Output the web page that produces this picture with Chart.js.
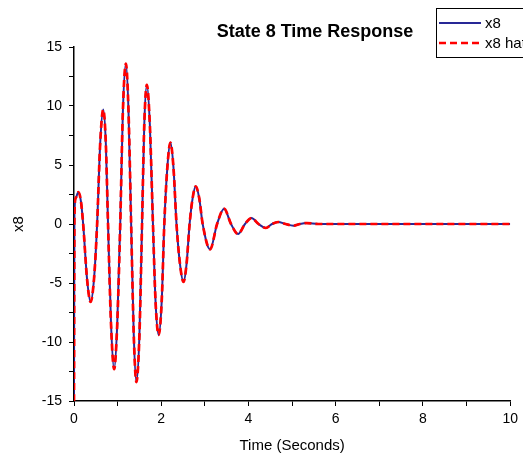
<!DOCTYPE html>
<html>
<head>
<meta charset="utf-8">
<script src="https://cdn.jsdelivr.net/npm/chart.js@4/dist/chart.umd.min.js"></script>
<style>
  body { margin: 0; background: #fff; }
  canvas { display: block; }
</style>
</head>
<body>
<canvas id="stateChart" width="523" height="456"></canvas>
<script>
// time samples (seconds)
var timeSec = [0, 0.01, 0.04, 0.1, 0.16, 0.21, 0.3, 0.38, 0.46, 0.53,
    0.6, 0.67, 0.73, 0.78, 0.85, 0.92, 0.99, 1.06, 1.12, 1.19,
    1.25, 1.31, 1.37, 1.43, 1.5, 1.56, 1.61, 1.67, 1.74, 1.81,
    1.87, 1.94, 2.01, 2.07, 2.14, 2.21, 2.28, 2.35, 2.43, 2.51,
    2.58, 2.65, 2.72, 2.79, 2.87, 2.95, 3.12, 3.28, 3.44, 3.6,
    3.76, 3.92, 4.07, 4.23, 4.4, 4.54, 4.68, 4.85, 5.03, 5.18,
    5.34, 5.6, 6, 7, 8, 9, 10];

var x8 = [-15, 0.8, 2.2, 2.7, 1.9, 0, -4.7, -6.6, -4.6, 0,
    6.8, 9.7, 6.8, 0, -8.6, -12.3, -8.6, 0, 9.5, 13.6,
    9.5, 0, -9.4, -13.4, -9.4, 0, 8.3, 11.8, 8.3, 0,
    -6.6, -9.4, -6.6, 0, 4.8, 6.9, 4.8, 0, -3.4, -4.9,
    -3.4, 0, 2.2, 3.2, 2.2, 0, -2.15, 0, 1.3, 0,
    -0.85, 0, 0.5, 0, -0.34, 0, 0.17, 0, -0.15, 0,
    0.08, 0, 0, 0, 0, 0, 0];

var x8hat = [-15, 0.8, 2.2, 2.7, 1.9, 0, -4.7, -6.6, -4.6, 0,
    6.8, 9.7, 6.8, 0, -8.6, -12.3, -8.6, 0, 9.5, 13.6,
    9.5, 0, -9.4, -13.4, -9.4, 0, 8.3, 11.8, 8.3, 0,
    -6.6, -9.4, -6.6, 0, 4.8, 6.9, 4.8, 0, -3.4, -4.9,
    -3.4, 0, 2.2, 3.2, 2.2, 0, -2.15, 0, 1.3, 0,
    -0.85, 0, 0.5, 0, -0.34, 0, 0.17, 0, -0.15, 0,
    0.08, 0, 0, 0, 0, 0, 0];

var xMajor = [0, 2, 4, 6, 8, 10];
var yMajor = [-15, -10, -5, 0, 5, 10, 15];

var FONT = "'Liberation Sans', Arial, sans-serif";

function toPoints(xs, ys) {
    return xs.map(function (t, i) { return { x: t, y: ys[i] }; });
}

// title + boxed legend, drawn like the original (legend clipped at the right edge)
var extras = {
    id: 'extras',
    afterDraw: function (chart) {
        var ctx = chart.ctx;
        ctx.save();
        ctx.fillStyle = '#000';
        ctx.font = 'bold 18px ' + FONT;
        ctx.textAlign = 'center';
        ctx.textBaseline = 'middle';
        ctx.fillText('State 8 Time Response', 315, 32);

        ctx.fillStyle = '#fff';
        ctx.fillRect(436, 8, 100, 49);
        ctx.strokeStyle = '#000';
        ctx.lineWidth = 1;
        ctx.strokeRect(436.5, 8.5, 100, 49);

        var sets = chart.data.datasets;
        var rows = [23, 43];
        sets.forEach(function (ds, i) {
            ctx.beginPath();
            ctx.strokeStyle = ds.borderColor;
            ctx.lineWidth = ds.borderWidth;
            ctx.setLineDash(ds.borderDash || []);
            ctx.moveTo(439, rows[i]);
            ctx.lineTo(481, rows[i]);
            ctx.stroke();
            ctx.setLineDash([]);
            ctx.fillStyle = '#000';
            ctx.font = '15px ' + FONT;
            ctx.textAlign = 'left';
            ctx.fillText(ds.label, 485, rows[i] + 1);
        });
        ctx.restore();
    }
};

var ctx = document.getElementById('stateChart').getContext('2d');
var chart = new Chart(ctx, {
    type: 'line',
    data: {
        datasets: [{
            label: 'x8',
            data: toPoints(timeSec, x8),
            borderColor: 'rgb(40, 40, 150)',
            borderWidth: 2,
            pointRadius: 0,
            cubicInterpolationMode: 'monotone',
            fill: false,
            order: 2
        }, {
            label: 'x8 hat',
            data: toPoints(timeSec, x8hat),
            borderColor: 'rgb(255, 0, 0)',
            borderWidth: 2.7,
            borderDash: [7, 4],
            pointRadius: 0,
            cubicInterpolationMode: 'monotone',
            fill: false,
            order: 1
        }]
    },
    options: {
        responsive: false,
        animation: false,
        layout: { padding: { top: 47, right: 10, left: 0, bottom: 0 } },
        plugins: {
            legend: { display: false },
            title: { display: false },
            tooltip: { enabled: false }
        },
        scales: {
            x: {
                type: 'linear',
                min: 0,
                max: 10,
                afterFit: function (s) { s.height = 55; },
                border: { display: true, color: '#000', width: 1.5 },
                grid: { drawOnChartArea: false, color: '#000', tickLength: 5 },
                ticks: {
                    stepSize: 1,
                    color: '#000',
                    font: { family: FONT, size: 14 },
                    padding: 5,
                    maxRotation: 0,
                    autoSkip: false,
                    callback: function (v) { return xMajor.indexOf(v) >= 0 ? String(v) : ''; }
                },
                title: {
                    display: true,
                    text: 'Time (Seconds)',
                    color: '#000',
                    font: { family: FONT, size: 15 },
                    padding: { top: 4, bottom: 1 }
                }
            },
            y: {
                min: -15,
                max: 15,
                afterFit: function (s) { s.width = 74; },
                border: { display: true, color: '#000', width: 1.5 },
                grid: { drawOnChartArea: false, color: '#000', tickLength: 5 },
                ticks: {
                    stepSize: 2.5,
                    color: '#000',
                    font: { family: FONT, size: 14 },
                    padding: 7,
                    autoSkip: false,
                    callback: function (v) { return yMajor.indexOf(v) >= 0 ? String(v) : ''; }
                },
                title: {
                    display: true,
                    text: 'x8',
                    color: '#000',
                    font: { family: FONT, size: 15 },
                    padding: { top: 10, bottom: 0 }
                }
            }
        }
    },
    plugins: [extras]
});
</script>
</body>
</html>
